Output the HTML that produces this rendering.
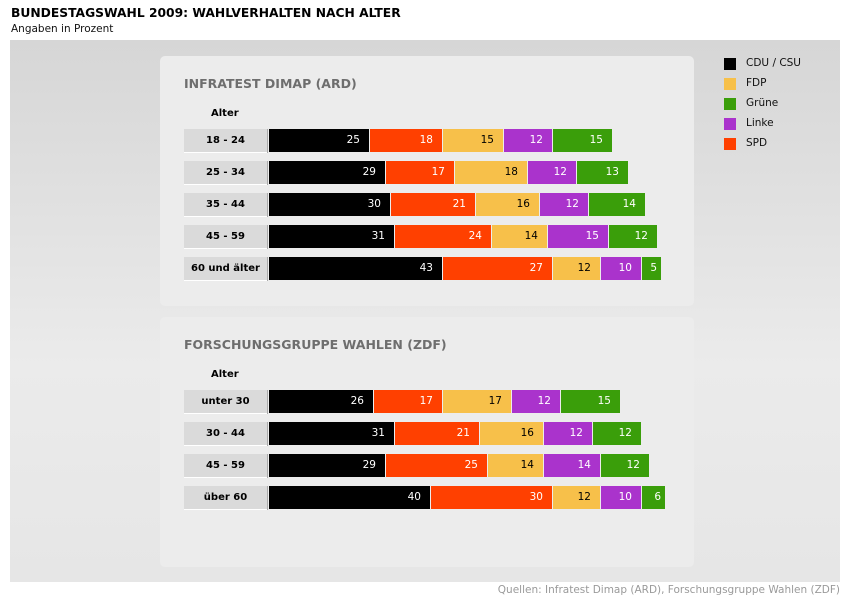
<!DOCTYPE html>
<html><head><meta charset="utf-8"><style>
body{margin:0;width:850px;height:599px;background:#fff;font-family:"DejaVu Sans","Liberation Sans",sans-serif;position:relative;overflow:hidden}
.abs{position:absolute}
#title{left:11px;top:6px;font-size:12.3px;font-weight:bold;color:#000}
#sub{left:11px;top:23px;font-size:10.5px;color:#111}
#bg{left:10px;top:40px;width:830px;height:542px;background:linear-gradient(180deg,#d6d6d6,#ebebeb 60%,#e6e6e6)}
.panel{left:160px;width:534px;height:250px;border-radius:5px;background:#ececec}
.ptitle{font-size:12.5px;font-weight:bold;color:#6e6e6e}
.alter{font-size:10px;font-weight:bold;color:#000}
.lab{left:184px;width:83px;height:23px;background:#dadada;border-bottom:1px solid #fff;font-size:10px;font-weight:bold;text-align:center;line-height:23px}
.seg{height:23px;font-size:10.5px;text-align:right;line-height:23px;box-sizing:border-box;padding-right:9px;color:#fff}
.leg{font-size:10.5px;color:#111}
#src{right:10px;top:584px;font-size:10.5px;color:#9a9a9a}
</style></head><body>
<div id="title" class="abs">BUNDESTAGSWAHL 2009: WAHLVERHALTEN NACH ALTER</div>
<div id="sub" class="abs">Angaben in Prozent</div>
<div id="bg" class="abs"></div>
<div class="abs panel" style="top:56px"></div>
<div class="abs panel" style="top:317px"></div>
<div class="abs ptitle" style="left:184px;top:76px">INFRATEST DIMAP (ARD)</div>
<div class="abs ptitle" style="left:184px;top:337px">FORSCHUNGSGRUPPE WAHLEN (ZDF)</div>
<div class="abs alter" style="left:211px;top:108px">Alter</div>
<div class="abs alter" style="left:211px;top:369px">Alter</div>
<div id="chart"></div>
<div id="legend"></div>
<div id="src" class="abs">Quellen: Infratest Dimap (ARD), Forschungsgruppe Wahlen (ZDF)</div>
<script>
const parties=["CDU / CSU","SPD","FDP","Linke","Grüne"];
const colors=["#000000","#ff4000","#f7c04a","#aa33cc","#3a9e0a"];
const textColors=["#fff","#fff","#000","#fff","#fff"];
const ardAges=["18 - 24","25 - 34","35 - 44","45 - 59","60 und älter"];
const ardCDU=[25,29,30,31,43];
const ardSPD=[18,17,21,24,27];
const ardFDP=[15,18,16,14,12];
const ardLinke=[12,12,12,15,10];
const ardGruene=[15,13,14,12,5];
const zdfAges=["unter 30","30 - 44","45 - 59","über 60"];
const zdfCDU=[26,31,29,40];
const zdfSPD=[17,21,25,30];
const zdfFDP=[17,16,14,12];
const zdfLinke=[12,12,14,10];
const zdfGruene=[15,12,12,6];
const legendOrder=[0,2,4,3,1];

const chart=document.getElementById('chart');
const x0=269, unit=4.05;
function xs(v){return v*unit;}
function draw(ages,series,top,key){
  ages.forEach((a,i)=>{
    const y=top+i*32;
    const l=document.createElement('div');
    l.className='abs lab';l.style.top=y+'px';l.textContent=a;
    
    
    chart.appendChild(l);
    const ln=document.createElement('div');
    ln.className='abs';ln.style.cssText='left:267px;top:'+y+'px;width:1px;height:24px;background:#aaa';
    
    
    chart.appendChild(ln);
    let cum=0;
    series.forEach((s,j)=>{
      const v=s[i];
      const d=document.createElement('div');
      d.className='abs seg';
      d.style.left=Math.round(x0+xs(cum))+'px';
      d.style.top=y+'px';
      d.style.width=(Math.round(x0+xs(cum+v))-Math.round(x0+xs(cum))-1)+'px';
      d.style.background=colors[j];
      d.style.color=textColors[j];
      if(v<8)d.style.paddingRight='4px';
      d.textContent=v;
      
      
      chart.appendChild(d);
      cum+=v;
    });
  });
}
draw(ardAges,[ardCDU,ardSPD,ardFDP,ardLinke,ardGruene],129,'ard');
draw(zdfAges,[zdfCDU,zdfSPD,zdfFDP,zdfLinke,zdfGruene],390,'zdf');
const lg=document.getElementById('legend');
legendOrder.forEach((p,k)=>{
  const y=58+k*20;
  const sw=document.createElement('div');
  sw.className='abs';sw.style.cssText='left:724px;top:'+y+'px;width:12px;height:12px;background:'+colors[p];
  
  
  lg.appendChild(sw);
  const t=document.createElement('div');
  t.className='abs leg';t.style.left='746px';t.style.top=(y-1)+'px';t.textContent=parties[p];
  
  
  lg.appendChild(t);
});
</script>
</body></html>
